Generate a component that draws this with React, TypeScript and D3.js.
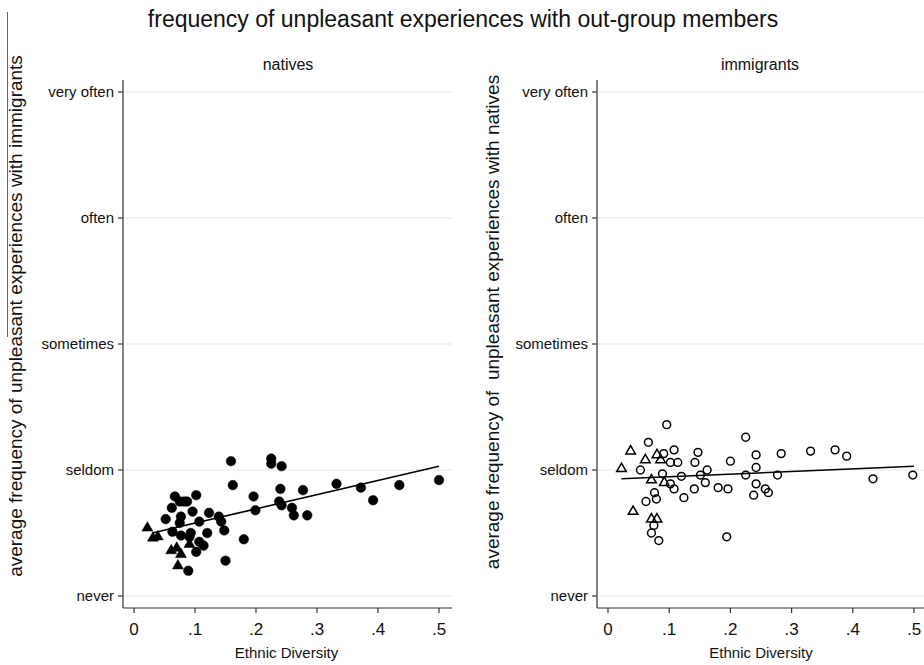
import React from "react";
import * as d3 from "d3";

const yTickValues = [1, 2, 3, 4, 5];
const yTickLabels = ["never", "seldom", "sometimes", "often", "very often"];
const xTickValues = [0, 0.1, 0.2, 0.3, 0.4, 0.5];
const xTickLabels = ["0", ".1", ".2", ".3", ".4", ".5"];

// natives panel: circles (x = ethnic diversity, y = frequency)
const nativesCircX = [0.159, 0.225, 0.225, 0.242, 0.162, 0.196, 0.240, 0.277, 0.332, 0.372, 0.435, 0.500, 0.392, 0.238, 0.242, 0.259, 0.262, 0.284, 0.199, 0.180, 0.150, 0.123, 0.139, 0.143, 0.148, 0.120, 0.067, 0.102, 0.087, 0.075, 0.082, 0.062, 0.096, 0.052, 0.077, 0.107, 0.075, 0.063, 0.077, 0.091, 0.107, 0.114, 0.102, 0.089, 0.093];
const nativesCircY = [2.07, 2.09, 2.05, 2.03, 1.88, 1.79, 1.85, 1.84, 1.89, 1.86, 1.88, 1.92, 1.76, 1.75, 1.72, 1.70, 1.64, 1.64, 1.68, 1.45, 1.28, 1.66, 1.63, 1.59, 1.52, 1.50, 1.79, 1.80, 1.75, 1.75, 1.75, 1.70, 1.67, 1.61, 1.63, 1.59, 1.58, 1.51, 1.48, 1.47, 1.43, 1.40, 1.35, 1.20, 1.50];
const nativesTriX = [0.022, 0.031, 0.039, 0.061, 0.070, 0.077, 0.072, 0.091];
const nativesTriY = [1.54, 1.46, 1.47, 1.36, 1.38, 1.33, 1.24, 1.41];
const nativesFitX = [0.03, 0.5];
const nativesFitY = [1.50, 2.03];

// immigrants panel
const immCircX = [0.096, 0.066, 0.225, 0.108, 0.091, 0.147, 0.242, 0.283, 0.331, 0.371, 0.390, 0.102, 0.114, 0.142, 0.200, 0.242, 0.162, 0.053, 0.089, 0.120, 0.151, 0.225, 0.277, 0.433, 0.498, 0.159, 0.102, 0.108, 0.141, 0.180, 0.196, 0.242, 0.257, 0.262, 0.238, 0.124, 0.076, 0.062, 0.079, 0.075, 0.071, 0.083, 0.194];
const immCircY = [2.36, 2.22, 2.26, 2.16, 2.13, 2.14, 2.12, 2.13, 2.15, 2.16, 2.11, 2.06, 2.06, 2.06, 2.07, 2.02, 2.00, 2.00, 1.97, 1.95, 1.96, 1.96, 1.96, 1.93, 1.96, 1.90, 1.89, 1.85, 1.85, 1.86, 1.85, 1.89, 1.85, 1.82, 1.80, 1.78, 1.82, 1.75, 1.77, 1.56, 1.50, 1.44, 1.47];
const immTriX = [0.037, 0.022, 0.061, 0.080, 0.086, 0.071, 0.092, 0.041, 0.071, 0.080];
const immTriY = [2.15, 2.01, 2.08, 2.12, 2.08, 1.92, 1.90, 1.67, 1.61, 1.61];
const immFitX = [0.022, 0.5];
const immFitY = [1.93, 2.03];

const FONT = "'Liberation Sans', Arial, Helvetica, sans-serif";

type PanelProps = {
  title: string;
  yTitle: string;
  axisX: number;
  x0: number;
  x5: number;
  right: number;
  titleX: number;
  yTitleX: number;
  yTitleY: number;
  circX: number[];
  circY: number[];
  triX: number[];
  triY: number[];
  fitX: number[];
  fitY: number[];
  hollow: boolean;
};

function Panel(p: PanelProps) {
  const x = d3.scaleLinear().domain([0, 0.5]).range([p.x0, p.x5]);
  const y = d3.scaleLinear().domain([1, 5]).range([596, 92]);
  const axisBottom = 608;
  const axisTop = 80;
  const tri = d3.symbol(d3.symbolTriangle, p.hollow ? 40 : 52)() as string;
  const line = d3
    .line<number>()
    .x((_, i) => x(p.fitX[i]))
    .y((d) => y(d));
  const fill = p.hollow ? "none" : "#000";
  const r = p.hollow ? 3.9 : 4.8;
  return (
    <g>
      <text x={p.titleX} y={70} textAnchor="middle" fontSize={16} fontFamily={FONT} fill="#111">
        {p.title}
      </text>
      {yTickValues.map((v) => (
        <line key={"g" + v} x1={p.axisX + 1} x2={p.right} y1={y(v)} y2={y(v)} stroke="#e6e6e6" strokeWidth={1.2} />
      ))}
      <line x1={p.axisX} x2={p.axisX} y1={axisTop} y2={axisBottom} stroke="#333" strokeWidth={1.2} />
      <line x1={p.axisX} x2={p.right} y1={axisBottom} y2={axisBottom} stroke="#333" strokeWidth={1.2} />
      {yTickValues.map((v, i) => (
        <g key={"yt" + v}>
          <line x1={p.axisX - 5} x2={p.axisX} y1={y(v)} y2={y(v)} stroke="#333" strokeWidth={1.2} />
          <text x={p.axisX - 9} y={y(v) + 5} textAnchor="end" fontSize={15} fontFamily={FONT} fill="#111">
            {yTickLabels[i]}
          </text>
        </g>
      ))}
      {xTickValues.map((v, i) => (
        <g key={"xt" + v}>
          <line x1={x(v)} x2={x(v)} y1={axisBottom} y2={axisBottom + 5} stroke="#333" strokeWidth={1.2} />
          <text x={x(v)} y={635} textAnchor="middle" fontSize={17} fontFamily={FONT} fill="#111">
            {xTickLabels[i]}
          </text>
        </g>
      ))}
      <text x={(p.x0 + p.x5) / 2} y={658} textAnchor="middle" fontSize={15} fontFamily={FONT} fill="#111">
        Ethnic Diversity
      </text>
      <text
        transform={`translate(${p.yTitleX},${p.yTitleY}) rotate(-90)`}
        textAnchor="middle"
        fontSize={19}
        fontFamily={FONT}
        fill="#111"
        style={{ whiteSpace: "pre" }}
      >
        {p.yTitle}
      </text>
      <path d={line(p.fitY) || ""} fill="none" stroke="#000" strokeWidth={1.6} />
      {p.circX.map((v, i) => (
        <circle key={"c" + i} cx={x(v)} cy={y(p.circY[i])} r={r} fill={fill} stroke="#000" strokeWidth={p.hollow ? 1.5 : 0.5} />
      ))}
      {p.triX.map((v, i) => (
        <path
          key={"t" + i}
          d={tri}
          transform={`translate(${x(v)},${y(p.triY[i])})`}
          fill={fill}
          stroke="#000"
          strokeWidth={p.hollow ? 1.5 : 0.5}
        />
      ))}
    </g>
  );
}

export default function App() {
  return (
    <svg
      width={924}
      height={665}
      style={{ position: "absolute", left: 0, top: 0, background: "#fff" }}
    >
      <rect x={0} y={0} width={924} height={665} fill="#fff" />
      <line x1={7.5} x2={7.5} y1={12} y2={337} stroke="#666" strokeWidth={1} />
      <text x={463} y={27} textAnchor="middle" fontSize={23} fontFamily={FONT} fill="#111">
        frequency of unpleasant experiences with out-group members
      </text>
      <Panel
        title="natives"
        yTitle="average frequency of unpleasant experiences with immigrants"
        axisX={123}
        x0={134}
        x5={439}
        right={452}
        titleX={288}
        yTitleX={22}
        yTitleY={316}
        circX={nativesCircX}
        circY={nativesCircY}
        triX={nativesTriX}
        triY={nativesTriY}
        fitX={nativesFitX}
        fitY={nativesFitY}
        hollow={false}
      />
      <Panel
        title="immigrants"
        yTitle="average frequency of  unpleasant experiences with natives"
        axisX={597}
        x0={608}
        x5={914}
        right={930}
        titleX={760}
        yTitleX={499}
        yTitleY={322}
        circX={immCircX}
        circY={immCircY}
        triX={immTriX}
        triY={immTriY}
        fitX={immFitX}
        fitY={immFitY}
        hollow={true}
      />
    </svg>
  );
}
